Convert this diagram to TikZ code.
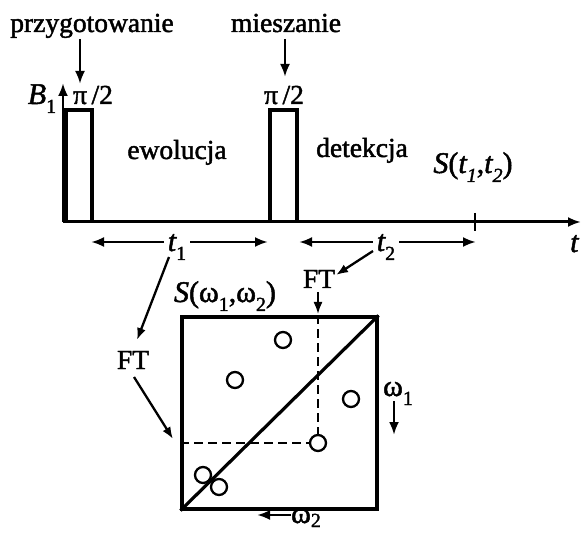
\documentclass[tikz,border=0pt]{standalone}
\usepackage{fontspec}
\setmainfont{Liberation Serif}[UprightFeatures={FakeBold=1.6}, ItalicFeatures={FakeBold=1.6}]
\usetikzlibrary{arrows.meta}
\newcommand\mysub[1]{\raisebox{-0.3em}{\fontsize{20}{20}\selectfont #1}}
\tikzset{
  x=1pt, y=-1pt,
  lbl/.style={font=\fontsize{27.5}{30}\selectfont, inner sep=0pt, anchor=base},
  mlbl/.style={font=\fontsize{30}{32}\selectfont, inner sep=0pt, anchor=base},
  heavy/.style={line width=3.2pt},
  arr/.style={-{Latex[length=13pt,width=10pt]}, line width=2.8pt},
  tarr/.style={-{Latex[length=12pt,width=9pt]}, line width=2.3pt},
  guideline/.style={line width=2pt, dash pattern=on 9pt off 5pt},
  spot/.style={circle, draw, line width=2.3pt, minimum size=16pt, inner sep=0pt},
}
\begin{document}
\begin{tikzpicture}
\useasboundingbox (0,0) rectangle (581,537);
% stage labels
\node[lbl] (prep) at (92,32) {przygotowanie};
\node[lbl] (mix) at (286,32) {mieszanie};
\node[lbl] (evo) at (177,159) {ewolucja};
\node[lbl] (det) at (362,157) {detekcja};
\node[mlbl] (Stt) at (473,173) {\itshape S\upshape(\itshape t\mysub{1}\upshape,\itshape t\mysub{2}\upshape)};
\node[mlbl] (B1) at (42,104) {\itshape B\upshape\mysub{1}};
\node[lbl] (pia) at (93,104) {π\,/2};
\node[lbl] (pib) at (284,104) {π\,/2};
% pulses
\draw[heavy, line join=miter] (66,222) -- (66,110) -- (92,110) -- (92,222);
\draw[heavy, line join=miter] (270,222) -- (270,110) -- (297,110) -- (297,222);
% axes
\coordinate (O) at (63,222);
\coordinate (Ytip) at (63,83);
\coordinate (Xtip) at (581,222);
\draw[arr] (O) -- (Ytip);
\draw[arr, line width=3pt] (O) -- (Xtip);
\coordinate (tickA) at (475,213);
\coordinate (tickB) at (475,231);
\draw[line width=2.6pt] (tickA) -- (tickB);
\node[mlbl, anchor=base west] (tax) at (570,252) {\itshape t};
% arrows from stage labels
\coordinate (pa) at (80,39);
\coordinate (pb) at (80,84);
\draw[arr] (pa) -- (pb);
\coordinate (ma) at (285,39);
\coordinate (mb) at (285,77);
\draw[arr] (ma) -- (mb);
% t1, t2 spans
\node[mlbl] (t1) at (177,251) {\itshape t\upshape\mysub{1}};
\node[mlbl] (t2) at (386,251) {\itshape t\upshape\mysub{2}};
\coordinate (t1l) at (91,242);
\coordinate (t1r) at (268,242);
\coordinate (t2l) at (299,242);
\coordinate (t2r) at (476,242);
\draw[arr] ([xshift=-4pt]t1.west |- t1l) -- (t1l);
\draw[arr] ([xshift=4pt]t1.east |- t1r) -- (t1r);
\draw[arr] ([xshift=-4pt]t2.west |- t2l) -- (t2l);
\draw[arr] ([xshift=4pt]t2.east |- t2r) -- (t2r);
% FT labels
\node[lbl] (ft1) at (133,369) {FT};
\node[lbl] (ft2) at (319,288) {FT};
\node[mlbl] (Sww) at (225,302) {\itshape S\upshape(ω\mysub{1},ω\mysub{2})};
% spectrum box
\node[draw, heavy, minimum width=195pt, minimum height=192pt, inner sep=0pt] (box) at (279.5,413) {};
\draw[heavy] (box.south west) -- (box.north east);
% peaks
\node[spot] (c1) at (283,340) {};
\node[spot] (c2) at (235,380) {};
\node[spot] (c3) at (351,399) {};
\node[spot] (c4) at (318,443) {};
\node[spot] (c5) at (203,475) {};
\node[spot] (c6) at (219,487) {};
\draw[guideline] (box.north -| c4) -- (c4.north);
\draw[guideline] (box.west |- c4) -- (c4.west);
% FT arrows
\coordinate (f1a) at (169,257);
\coordinate (f1b) at (137,340);
\draw[tarr] (f1a) -- (f1b);
\coordinate (f1c) at (134,377);
\coordinate (f1d) at (173,439);
\draw[tarr] (f1c) -- (f1d);
\coordinate (f2a) at (373,251);
\coordinate (f2b) at (336,275);
\draw[tarr] (f2a) -- (f2b);
\coordinate (f2c) at (318,292);
\coordinate (f2d) at (318,314);
\draw[tarr, line width=1.8pt] (f2c) -- (f2d);
% frequency axes
\node[mlbl] (w1) at (398,396) {ω\mysub{1}};
\coordinate (w1a) at (394,401);
\coordinate (w1b) at (394,435);
\draw[arr] (w1a) -- (w1b);
\node[mlbl] (w2) at (306,523) {ω{\fontsize{20}{20}\selectfont\raisebox{-0.2em}{2}}};
\coordinate (w2a) at (291,515);
\coordinate (w2b) at (257,515);
\draw[arr] (w2a) -- (w2b);
\end{tikzpicture}
\end{document}
